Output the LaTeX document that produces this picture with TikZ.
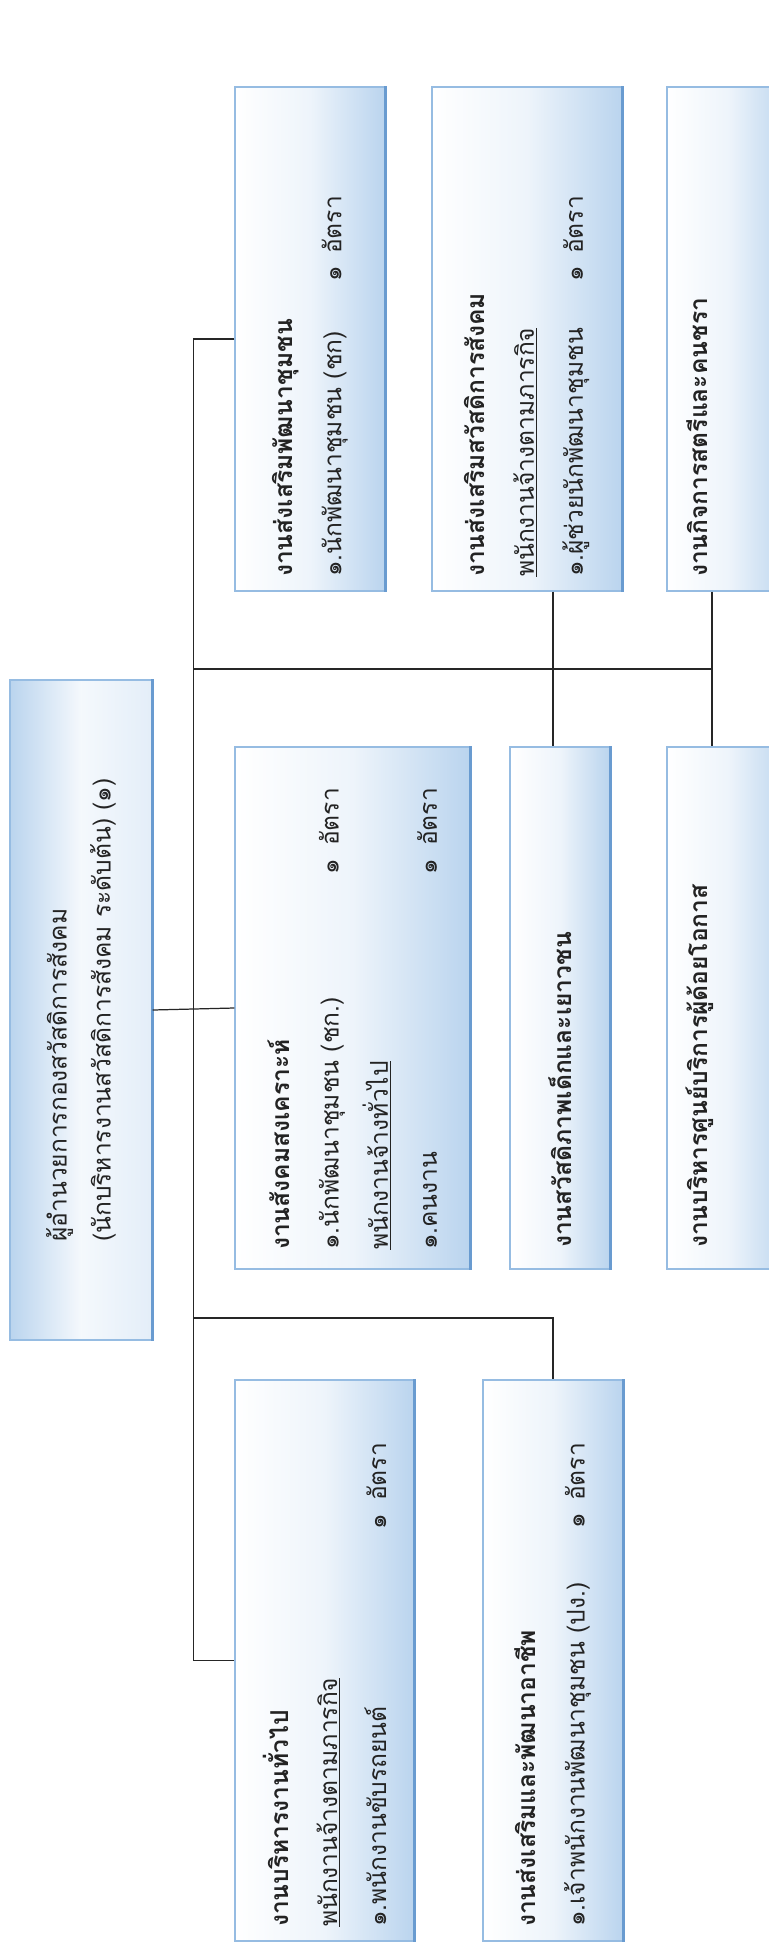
\documentclass[tikz,border=0pt]{standalone}
\usepackage{fontspec}
\newfontfamily\thaifont[Script=Thai]{Loma}
\definecolor{boxblue}{RGB}{186,212,238}
\definecolor{boxline}{RGB}{150,188,226}
\definecolor{boxedge}{RGB}{105,155,208}
\definecolor{inkgray}{RGB}{35,35,35}
\tikzset{
  unit/.style={draw=boxline, line width=0.8pt, rotate=90, left color=white, right color=boxblue,
    middle color=white!75!boxblue, font=\thaifont\fontsize{14}{27.9}\selectfont, text=inkgray,
    inner sep=0pt, align=left},
  headunit/.style={unit, left color=boxblue, right color=white!60!boxblue, middle color=white!85!boxblue,
    font=\thaifont\fontsize{14}{25}\selectfont},
  edgeunit/.style={unit, text height=0.4cm, text depth=1.25cm},
  link/.style={line width=0.7pt, black!85},
  rim/.style={draw=boxedge, line width=1.6pt}
}
\newcommand{\rate}[2]{\makebox[#1][l]{#2}๑\hspace{0.25cm}อัตรา}
\begin{document}
\begin{tikzpicture}[x=0.02cm, y=-0.02cm]
\useasboundingbox (0,0) rectangle (768,1947);
% head of division
\node[headunit, minimum width=13.2cm, minimum height=2.84cm] (root) at (81,1010)
  {ผู้อำนวยการกองสวัสดิการสังคม\\(นักบริหารงานสวัสดิการสังคม ระดับต้น) (๑)};
% upper row
\node[unit, minimum width=10.08cm, minimum height=3.0cm, text width=9.52cm] (A) at (310,339)
  {\textbf{งานส่งเสริมพัฒนาชุมชน}\\\rate{5.9cm}{๑.นักพัฒนาชุมชน (ชก)}};
\node[unit, minimum width=10.08cm, minimum height=3.8cm, text width=9.52cm] (B) at (527,339)
  {\textbf{งานส่งเสริมสวัสดิการสังคม}\\\underline{พนักงานจ้างตามภารกิจ}\\\rate{5.9cm}{๑.ผู้ช่วยนักพัฒนาชุมชน}};
\node[edgeunit, minimum width=10.08cm, minimum height=2.46cm, text width=9.52cm] (C) at (728.5,339)
  {\textbf{งานกิจการสตรีและคนชรา}};
% middle row
\node[unit, minimum width=10.44cm, minimum height=4.7cm, text width=9.68cm] (D) at (352.5,1008)
  {\textbf{งานสังคมสงเคราะห์}\\\rate{7.52cm}{๑.นักพัฒนาชุมชน (ชก.)}\\\underline{พนักงานจ้างทั่วไป}\\\rate{7.52cm}{๑.คนงาน}};
\node[unit, minimum width=10.44cm, minimum height=2.0cm, text width=9.6cm] (E) at (560,1008)
  {\textbf{งานสวัสดิภาพเด็กและเยาวชน}};
\node[edgeunit, minimum width=10.44cm, minimum height=2.46cm, text width=9.6cm] (F) at (728.5,1008)
  {\textbf{งานบริหารศูนย์บริการผู้ด้อยโอกาส}};
% lower row
\node[unit, minimum width=11.22cm, minimum height=3.58cm, text width=10.66cm] (G) at (324.5,1660.5)
  {\textbf{งานบริหารงานทั่วไป}\\\underline{พนักงานจ้างตามภารกิจ}\\\rate{7.96cm}{๑.พนักงานขับรถยนต์}};
\node[unit, minimum width=11.22cm, minimum height=2.8cm, text width=10.66cm] (H) at (553,1660.5)
  {\textbf{งานส่งเสริมและพัฒนาอาชีพ}\\\rate{7.96cm}{๑.เจ้าพนักงานพัฒนาชุมชน (ปง.)}};
\foreach \n in {root,A,B,D,E,G,H}
  \draw[rim] (\n.south west) -- (\n.south east);
% connectors
\coordinate (busU) at (194,669);
\coordinate (busL) at (194,1318);
\draw[link] (A.north) -- ++(-41,0) |- (G.north);
\draw[link] (root.south) -- (D.north);
\draw[link] (busU) -- (busU -| 712,0);
\draw[link] (B.west -| H.east) -- (E.east -| H.east);
\draw[link] (C.west -| 712,0) -- (F.east -| 712,0);
\draw[link] (busL) -| (H.east);
\end{tikzpicture}
\end{document}
